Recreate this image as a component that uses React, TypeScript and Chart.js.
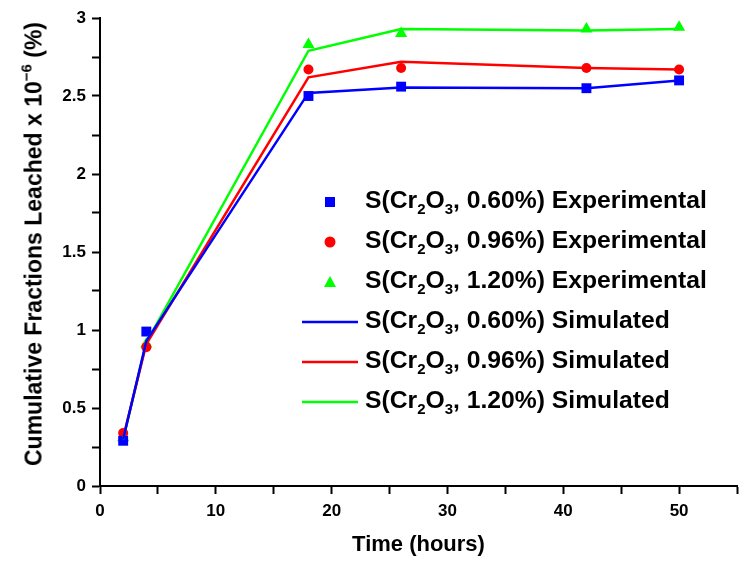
import React, { useRef, useEffect } from "react";
import { Chart, registerables } from "chart.js";

Chart.register(...registerables);

// data
const hours = [2, 4, 18, 26, 42, 50];
const exp060 = [0.29, 0.99, 2.5, 2.56, 2.55, 2.6];
const exp096 = [0.34, 0.89, 2.67, 2.68, 2.68, 2.67];
const exp120 = [0.31, 0.91, 2.83, 2.9, 2.93, 2.94];
const sim060 = [0.3, 0.93, 2.52, 2.555, 2.55, 2.6];
const sim096 = [0.31, 0.91, 2.62, 2.72, 2.68, 2.67];
const sim120 = [0.3, 0.92, 2.79, 2.93, 2.92, 2.93];

const BLUE = "#0000FF";
const RED = "#FF0000";
const GREEN = "#00FF00";
const FONT = "'Liberation Sans', Arial, sans-serif";

const pts = (ys: number[]) => hours.map((x, i) => ({ x, y: ys[i] }));

const legendItems = [
  { pct: "0.60%", kind: "Experimental", color: BLUE, marker: "square" },
  { pct: "0.96%", kind: "Experimental", color: RED, marker: "circle" },
  { pct: "1.20%", kind: "Experimental", color: GREEN, marker: "triangle" },
  { pct: "0.60%", kind: "Simulated", color: BLUE, marker: "line" },
  { pct: "0.96%", kind: "Simulated", color: RED, marker: "line" },
  { pct: "1.20%", kind: "Simulated", color: GREEN, marker: "line" },
];

const Marker: React.FC<{ type: string; color: string }> = ({ type, color }) => (
  <svg width={56} height={14} style={{ display: "block" }}>
    {type === "square" && <rect x={23} y={2} width={10} height={10} fill={color} />}
    {type === "circle" && <circle cx={28} cy={7} r={5.5} fill={color} />}
    {type === "triangle" && <polygon points="28,1 34,12 22,12" fill={color} />}
    {type === "line" && <line x1={0} y1={7} x2={56} y2={7} stroke={color} strokeWidth={2.5} />}
  </svg>
);

const App: React.FC = () => {
  const chartRef = useRef<HTMLCanvasElement | null>(null);

  useEffect(() => {
    if (!chartRef.current) return;
    const ctx = chartRef.current.getContext("2d");
    if (!ctx) return;

    const tickFont = { family: FONT, size: 17, weight: "bold" as const };

    const chartInstance = new Chart(ctx, {
      type: "scatter",
      data: {
        datasets: [
          { label: "sim 0.60", data: pts(sim060), showLine: true, borderColor: BLUE, borderWidth: 2.5, pointRadius: 0 },
          { label: "sim 0.96", data: pts(sim096), showLine: true, borderColor: RED, borderWidth: 2.5, pointRadius: 0 },
          { label: "sim 1.20", data: pts(sim120), showLine: true, borderColor: GREEN, borderWidth: 2.5, pointRadius: 0 },
          { label: "exp 0.60", data: pts(exp060), pointStyle: "rect", pointRadius: 7, backgroundColor: BLUE, borderColor: BLUE, borderWidth: 0 },
          { label: "exp 0.96", data: pts(exp096), pointStyle: "circle", pointRadius: 5, backgroundColor: RED, borderColor: RED, borderWidth: 0 },
          { label: "exp 1.20", data: pts(exp120), pointStyle: "triangle", pointRadius: 7, backgroundColor: GREEN, borderColor: GREEN, borderWidth: 0 },
        ],
      },
      options: {
        animation: false,
        responsive: true,
        maintainAspectRatio: false,
        layout: { padding: { top: 18, right: 9, left: 0, bottom: 0 } },
        plugins: {
          legend: { display: false },
          tooltip: { enabled: false },
        },
        scales: {
          x: {
            type: "linear",
            min: 0,
            max: 55,
            border: { color: "#000", width: 2 },
            grid: { drawOnChartArea: false, drawTicks: true, tickLength: 8, tickColor: "#000", tickWidth: 2 },
            ticks: {
              stepSize: 5,
              autoSkip: false,
              maxRotation: 0,
              padding: 7,
              color: "#000",
              font: tickFont,
              callback: (v) => (Number(v) % 10 === 0 ? String(v) : ""),
            },
            title: {
              display: true,
              text: "Time (hours)",
              color: "#000",
              font: { family: FONT, size: 22, weight: "bold" },
              padding: { top: 2 },
            },
            afterFit: (scale) => {
              scale.height = 76;
            },
          },
          y: {
            min: 0,
            max: 3,
            border: { color: "#000", width: 2 },
            grid: { drawOnChartArea: false, drawTicks: true, tickLength: 8, tickColor: "#000", tickWidth: 2 },
            ticks: {
              stepSize: 0.25,
              autoSkip: false,
              padding: 6,
              color: "#000",
              font: tickFont,
              callback: (v) => {
                const n = Number(v);
                return Math.abs(n * 2 - Math.round(n * 2)) < 1e-6 ? String(Math.round(n * 10) / 10) : "";
              },
            },
            afterFit: (scale) => {
              scale.width = 100;
            },
          },
        },
      },
    });

    return () => {
      chartInstance.destroy();
    };
  }, []);

  return (
    <div
      style={{
        position: "absolute",
        left: 0,
        top: 0,
        width: 746,
        height: 562,
        background: "#fff",
        fontFamily: FONT,
        color: "#000",
      }}
    >
      <canvas ref={chartRef} />

      {/* y axis title */}
      <div
        style={{
          position: "absolute",
          left: 32,
          top: 244,
          transform: "translate(-50%, -50%) rotate(-90deg)",
          whiteSpace: "nowrap",
          fontSize: 23,
          fontWeight: "bold",
          lineHeight: 1,
        }}
      >
        Cumulative Fractions Leached x 10
        <sup style={{ fontSize: 15, verticalAlign: 10 }}>−6</sup> (%)
      </div>

      {/* legend */}
      <div style={{ position: "absolute", left: 302, top: 182 }}>
        {legendItems.map((it, i) => (
          <div key={i} style={{ display: "flex", alignItems: "center", height: 40 }}>
            <Marker type={it.marker} color={it.color} />
            <div
              style={{
                marginLeft: 7,
                fontSize: 24.7,
                fontWeight: "bold",
                lineHeight: 1,
                whiteSpace: "nowrap",
              }}
            >
              S(Cr<sub style={{ fontSize: 15, verticalAlign: -6 }}>2</sub>O
              <sub style={{ fontSize: 15, verticalAlign: -6 }}>3</sub>, {it.pct}) {it.kind}
            </div>
          </div>
        ))}
      </div>
    </div>
  );
};

export default App;
